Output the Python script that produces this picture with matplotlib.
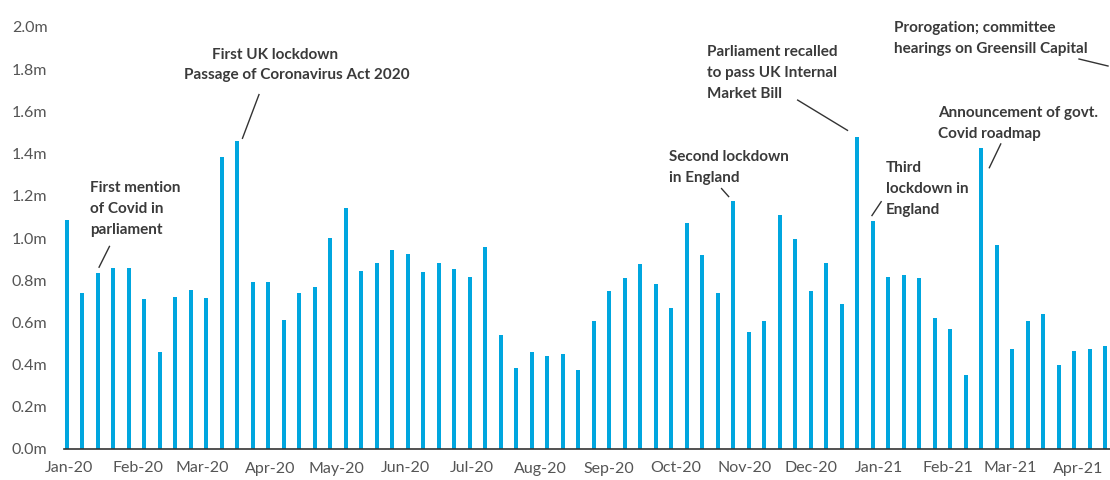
import matplotlib.pyplot as plt
import matplotlib.dates as mdates
import pandas as pd
import numpy as np

# weekly totals, in millions
weeks = pd.date_range('2019-12-31', periods=68, freq='7D')
totals = [1.083, 0.74, 0.835, 0.86, 0.86, 0.71, 0.46, 0.72, 0.755, 0.715,
          1.385, 1.46, 0.79, 0.79, 0.61, 0.74, 0.77, 1.0, 1.14, 0.845,
          0.88, 0.945, 0.925, 0.84, 0.88, 0.855, 0.815, 0.955, 0.54, 0.385,
          0.46, 0.44, 0.45, 0.375, 0.605, 0.75, 0.81, 0.875, 0.78, 0.67,
          1.07, 0.92, 0.74, 1.175, 0.555, 0.605, 1.11, 0.995, 0.75, 0.88,
          0.685, 1.48, 1.08, 0.815, 0.825, 0.81, 0.62, 0.57, 0.35, 1.425,
          0.965, 0.475, 0.605, 0.64, 0.40, 0.465, 0.475, 0.49]

month_ticks = pd.date_range('2020-01-01', '2021-04-01', freq='MS')
month_labels = [d.strftime('%b-%y') for d in month_ticks]
y_ticks = np.arange(0, 2.01, 0.2)
y_labels = ['{:.1f}m'.format(v) for v in y_ticks]

BLUE = '#00a6df'
TEXT = '#3a3a3a'
W, H = 1110, 480

plt.rcParams['font.family'] = ['Lato', 'DejaVu Sans']

fig = plt.figure(figsize=(W / 100, H / 100), dpi=100)
ax = fig.add_axes([64 / W, (H - 449) / H, 1 - 64 / W, (449 - 27) / H])

ax.bar(weeks, totals, width=1.8, color=BLUE, align='center')

ax.set_ylim(0, 2.0)
ax.set_xlim(pd.Timestamp('2019-12-29 18:00'), pd.Timestamp('2021-04-15 06:00'))
ax.set_yticks(y_ticks)
ax.set_yticklabels(y_labels)
ax.set_xticks(month_ticks)
ax.set_xticklabels(month_labels)
ax.tick_params(length=0, labelsize=11.5, labelcolor='#555555')
ax.tick_params(axis='y', pad=12)
ax.tick_params(axis='x', pad=9)
for s in ['top', 'right', 'left']:
    ax.spines[s].set_visible(False)
ax.spines['bottom'].set_color('#333333')
ax.spines['bottom'].set_linewidth(1.2)


def to_data(xp, yp):
    # figure pixels (origin top left) -> data coordinates
    disp = (xp, H - yp)
    return ax.transData.inverted().transform(disp)


def bar_top_px(i):
    x, y = ax.transData.transform((mdates.date2num(weeks[i]), totals[i]))
    return x, H - y


def leader(i, start, end):
    # start / end are pixel offsets from the top of bar i (y down)
    bx, by = bar_top_px(i)
    p0 = to_data(bx + start[0], by + start[1])
    p1 = to_data(bx + end[0], by + end[1])
    ax.plot([p0[0], p1[0]], [p0[1], p1[1]], color='#333333', lw=1,
            clip_on=False, solid_capstyle='butt')


def note(xp, yp, s):
    fig.text(xp / W, 1 - yp / H, s, ha='left', va='top', fontsize=11,
             fontweight='bold', color=TEXT, linespacing=1.62)


note(90, 181, 'First mention\nof Covid in\nparliament')
leader(2, (12, -27), (1, -5))

note(212, 48, 'First UK lockdown')
note(184, 68, 'Passage of Coronavirus Act 2020')
leader(11, (22, -47), (5, -2))

note(707, 45, 'Parliament recalled\nto pass UK Internal\nMarket Bill')
leader(51, (-60, -37), (-9, -6))

note(669, 150, 'Second lockdown\nin England')
leader(43, (-12, -13), (-4, -4))

note(886, 161, 'Third\nlockdown in\nEngland')
leader(52, (9, -20), (-1, -5))

note(938, 106, 'Announcement of govt.\nCovid roadmap')
leader(59, (20, -5), (8, 20))

note(894, 21, 'Prorogation; committee\nhearings on Greensill Capital')
p0 = to_data(1079, 59)
p1 = to_data(1108, 66)
ax.plot([p0[0], p1[0]], [p0[1], p1[1]], color='#333333', lw=1, clip_on=False)

fig.savefig('out.png', dpi=100)
